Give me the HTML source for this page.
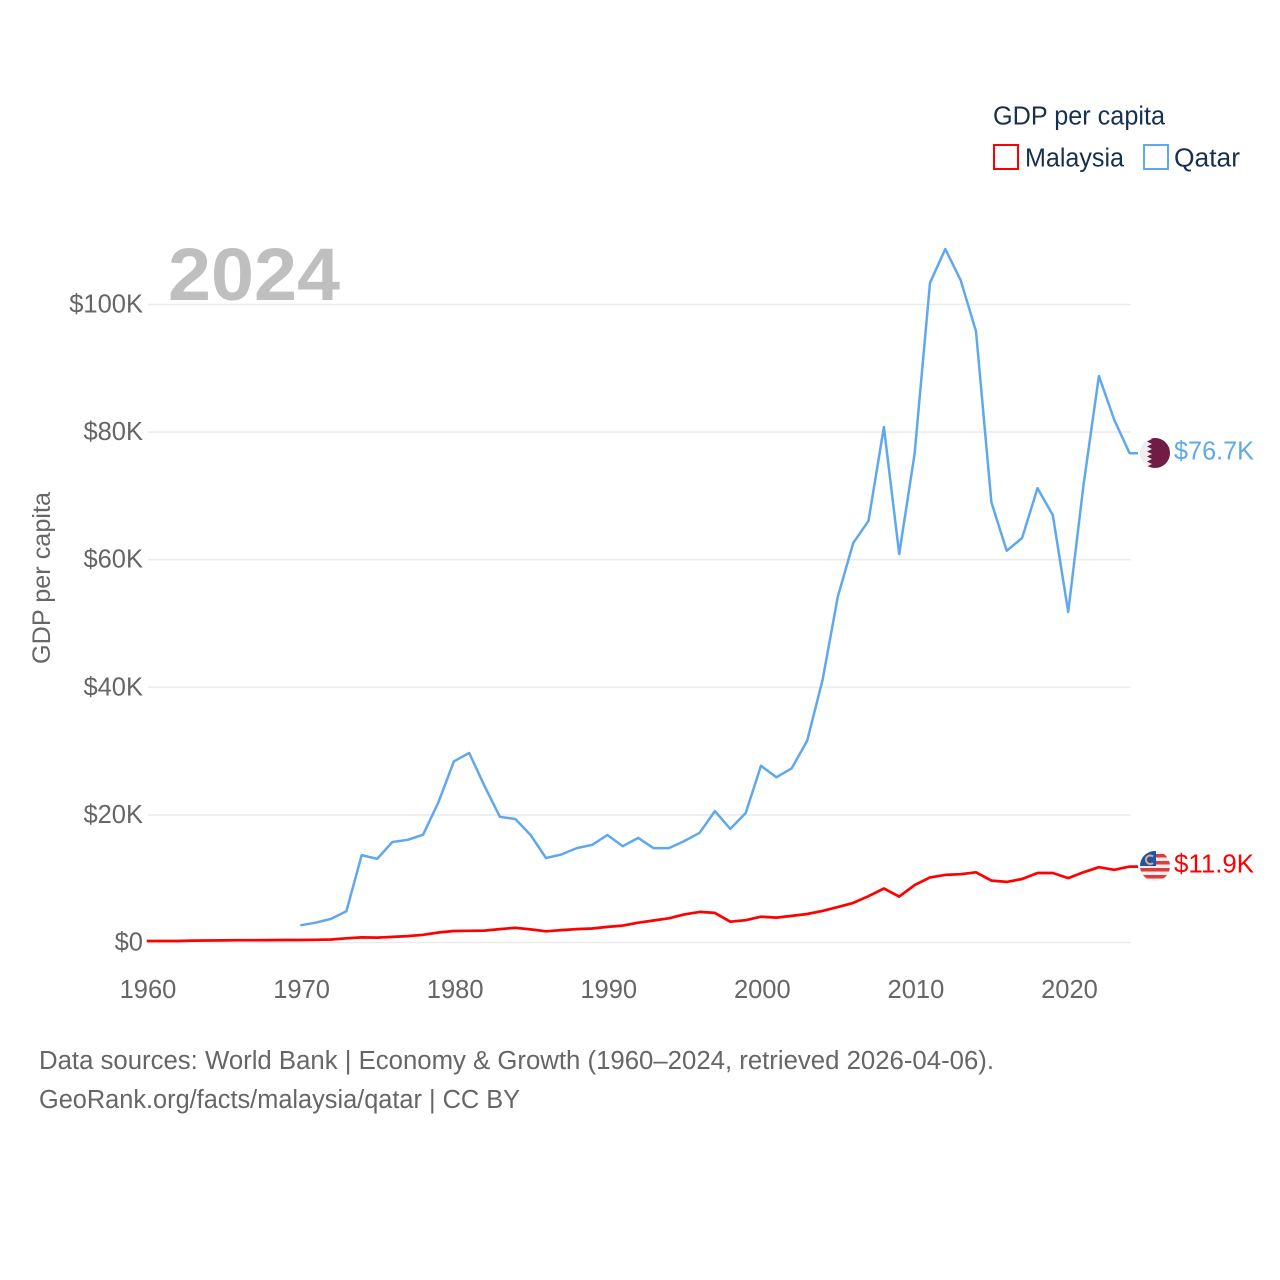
<!DOCTYPE html>
<html lang="en">
<head>
<meta charset="utf-8">
<title>GDP per capita: Malaysia and Qatar</title>
<style>
html,body{margin:0;padding:0;background:#fff;width:1280px;height:1280px;overflow:hidden}
svg{display:block}
text{font-family:"Liberation Sans",sans-serif}
</style>
</head>
<body>
<svg id="chart" width="1280" height="1280" viewBox="0 0 1280 1280" xmlns="http://www.w3.org/2000/svg">
  <defs>
    <clipPath id="clip-qa"><circle cx="1155" cy="453" r="15"/></clipPath>
    <clipPath id="clip-my"><circle cx="1155" cy="866" r="15"/></clipPath>
  </defs>
  <g id="grid"></g>
  <g id="y-ticks"></g>
  <g id="x-ticks"></g>
  <text transform="translate(50,578) rotate(-90)" text-anchor="middle" font-size="25" fill="#666" textLength="172" lengthAdjust="spacingAndGlyphs">GDP per capita</text>
  <text x="168" y="300" font-size="74" font-weight="700" fill="#bfbfbf" textLength="172" lengthAdjust="spacingAndGlyphs">2024</text>
  <g id="series"></g>

  <g clip-path="url(#clip-qa)">
    <rect x="1140" y="438" width="30" height="30" fill="#eeeeee"/>
    <polygon fill="#701c45" points="1171,437 1147,437 1152,439 1147,441.500 1152,444 1147,446.500 1152,449 1147,451.500 1152,454 1147,456.500 1152,459 1147,461.500 1152,464 1147,466.500 1147,469 1171,469"/>
  </g>
  <g clip-path="url(#clip-my)">
    <rect x="1140" y="851" width="30" height="30" fill="#eeeeee"/>
    <rect x="1140" y="854" width="30" height="3.500" fill="#e03a3e"/>
    <rect x="1140" y="861" width="30" height="3.500" fill="#e03a3e"/>
    <rect x="1140" y="868" width="30" height="3.500" fill="#e03a3e"/>
    <rect x="1140" y="875" width="30" height="3.500" fill="#e03a3e"/>
    <rect x="1140" y="851" width="16" height="15" fill="#1a57a8"/>
    <path d="M1153 856.500 A4.300 4.300 0 1 0 1153 863" fill="none" stroke="#f0a878" stroke-width="2"/>
  </g>
  <text id="label-qa" x="1174" y="459.500" font-size="25.500" fill="#5fa8ee" textLength="80" lengthAdjust="spacingAndGlyphs"></text>
  <text id="label-my" x="1174" y="872.500" font-size="25.500" fill="#ff0000" textLength="80" lengthAdjust="spacingAndGlyphs"></text>

  <g>
    <text x="993" y="124.500" font-size="25.500" fill="#18304f" textLength="172" lengthAdjust="spacingAndGlyphs">GDP per capita</text>
    <rect x="994" y="145" width="24" height="24" fill="#fff" stroke="#ff0000" stroke-width="2"/>
    <text x="1025" y="166.500" font-size="25.500" fill="#18304f" textLength="99" lengthAdjust="spacingAndGlyphs">Malaysia</text>
    <rect x="1144" y="145" width="24" height="24" fill="#fff" stroke="#5fa8ee" stroke-width="2"/>
    <text x="1174" y="166.500" font-size="25.500" fill="#18304f" textLength="66" lengthAdjust="spacingAndGlyphs">Qatar</text>
  </g>

  <text x="39" y="1069" font-size="25.500" fill="#666" textLength="955" lengthAdjust="spacingAndGlyphs">Data sources: World Bank | Economy &amp; Growth (1960–2024, retrieved 2026-04-06).</text>
  <text x="39" y="1108" font-size="25.500" fill="#666" textLength="481" lengthAdjust="spacingAndGlyphs">GeoRank.org/facts/malaysia/qatar | CC BY</text>
</svg>
<script>
const firstYear = 1960;
const malaysiaValues = [0.24,0.24,0.24,0.3,0.32,0.33,0.36,0.36,0.37,0.39,0.39,0.42,0.47,0.66,0.8,0.77,0.88,1.0,1.2,1.56,1.8,1.83,1.87,2.1,2.3,2.05,1.75,1.95,2.1,2.2,2.45,2.65,3.1,3.45,3.8,4.4,4.8,4.64,3.26,3.5,4.04,3.9,4.17,4.46,4.95,5.55,6.2,7.25,8.47,7.2,9.0,10.2,10.6,10.7,11.0,9.7,9.5,9.95,10.9,10.9,10.1,11.0,11.8,11.4,11.9];
const qatarFirstYear = 1970;
const qatarValues = [2.7,3.1,3.7,4.9,13.7,13.1,15.75,16.1,16.9,22.0,28.4,29.7,24.5,19.7,19.35,16.85,13.25,13.8,14.8,15.3,16.85,15.1,16.4,14.8,14.8,15.9,17.2,20.6,17.8,20.3,27.7,25.9,27.3,31.6,41.1,54.2,62.6,66.1,80.8,60.9,76.6,103.4,108.7,103.8,95.8,69.0,61.4,63.4,71.2,67.0,51.8,71.7,88.8,81.9,76.7];
const yTicks = [0,20,40,60,80,100];
const yTickLabels = ["$0","$20K","$40K","$60K","$80K","$100K"];
const xTicks = [1960,1970,1980,1990,2000,2010,2020];

const NS = "http://www.w3.org/2000/svg";
const xScale = year => 146.7 + (year - 1960) * 15.358;
const yScale = value => 942.5 - value * 6.38;
const connectorEndX = 1138;
const gridLeft = 148;
const gridRight = 1130.5;
const xLabelOffset = 1.3;

function make(tag, attrs, parent, text) {
  const el = document.createElementNS(NS, tag);
  for (const k in attrs) el.setAttribute(k, attrs[k]);
  if (text !== undefined) el.textContent = text;
  parent.appendChild(el);
  return el;
}

const grid = document.getElementById("grid");
const yGroup = document.getElementById("y-ticks");
yTicks.forEach((t, i) => {
  const line = make("line", {x1: gridLeft, x2: gridRight, y1: yScale(t), y2: yScale(t), stroke: "#ebebeb", "stroke-width": 1.6}, grid);
  
  
  const label = make("text", {x: 143, y: yScale(t) + 8, "text-anchor": "end", "font-size": 25.5, fill: "#666"}, yGroup, yTickLabels[i]);
  
  
});

const xGroup = document.getElementById("x-ticks");
xTicks.forEach(t => {
  const label = make("text", {x: xScale(t) + xLabelOffset, y: 998, "text-anchor": "middle", "font-size": 25.5, fill: "#666"}, xGroup, String(t));
  
  
});

function pointsFor(values, startYear) {
  const pts = values.map((v, i) => xScale(startYear + i).toFixed(1) + "," + yScale(v).toFixed(1));
  pts.push(connectorEndX + "," + yScale(values[values.length - 1]).toFixed(1));
  return pts.join(" ");
}

const seriesGroup = document.getElementById("series");
const qatarLine = make("polyline", {points: pointsFor(qatarValues, qatarFirstYear), fill: "none", stroke: "#5fa8ee", "stroke-width": 2.5, "stroke-linejoin": "round"}, seriesGroup);


const malaysiaLine = make("polyline", {points: pointsFor(malaysiaValues, firstYear), fill: "none", stroke: "#ff0000", "stroke-width": 2.7, "stroke-linejoin": "round"}, seriesGroup);



document.getElementById("label-qa").textContent = "$" + qatarValues[qatarValues.length - 1].toFixed(1) + "K";
document.getElementById("label-my").textContent = "$" + malaysiaValues[malaysiaValues.length - 1].toFixed(1) + "K";
</script>
</body>
</html>
